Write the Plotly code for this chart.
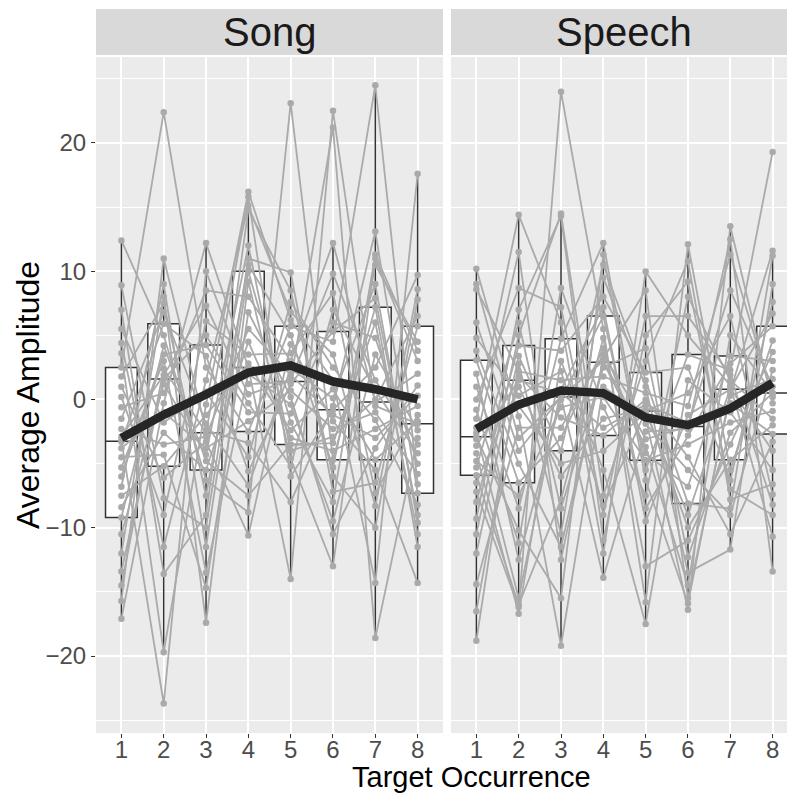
import plotly.graph_objects as go

targets = [1, 2, 3, 4, 5, 6, 7, 8]
panel_names = ["Song", "Speech"]

# ---- Song: per-target values for each participant (participant i = position i)
song_t1 = [5.5,-6.8,0.2,-14.5,12.4,-3.2,-10.5,2.5,-4.5,-1.5,-17.1,7.0,-6.0,1.0,-12.0,-2.9,3.6,-8.4,-3.3,8.9,-15.7,-0.6,-5.3,4.4,-9.2,-2.3,-13.4,1.8,-7.5,-3.8]
song_t2 = [-1.8,9.0,-9.0,2.4,5.0,-23.7,1.2,22.4,-4.3,6.8,-0.3,-13.6,3.5,-6.1,8.0,1.9,-19.7,-2.6,5.9,-7.7,11.0,0.5,3.0,-11.5,4.2,-3.5,1.6,7.5,-5.2,-1.0]
song_t3 = [0.6,-11.5,6.1,-2.6,-6.3,10.0,-4.3,2.5,-14.7,-1.9,12.2,-9.0,4.25,-3.3,-17.4,7.3,-0.4,-5.5,3.4,-10.0,-2.4,8.5,-13.5,1.5,-4.8,-2.9,5.0,-7.5,-1.2,-3.8]
song_t4 = [-4.5,10.0,3.5,15.8,-8.8,1.2,12.0,-2.5,6.8,-6.7,2.5,14.8,-1.0,-10.6,9.2,0.4,16.2,4.5,-5.6,11.0,-3.4,8.0,2.0,15.1,-7.5,5.5,-0.3,10.5,2.8,-1.7]
song_t5 = [7.6,-1.8,3.6,-6.0,23.1,1.4,-4.0,5.7,0.2,2.4,-14.0,8.5,-1.1,4.3,-4.6,1.5,6.2,-3.0,1.2,9.9,-8.0,3.0,-0.4,6.8,-3.5,1.9,-5.2,5.0,-2.4,0.7]
song_t6 = [2.5,-8.0,8.3,-0.8,-4.7,21.2,-2.9,4.5,-10.5,0.1,22.5,-6.0,6.0,-1.7,-13.0,9.8,1.5,-4.0,5.3,-7.2,-0.5,12.2,-9.5,3.5,-3.4,-1.2,7.0,-5.3,0.8,-2.3]
song_t7 = [-1.6,11.3,-7.3,2.5,7.2,-18.6,0.0,24.5,-3.8,9.0,-0.5,-10.0,4.8,-5.5,11.0,1.5,-14.3,-2.3,7.9,-6.5,13.1,-0.2,3.5,-8.3,6.0,-3.0,0.7,10.5,-4.7,-1.0]
song_t8 = [-8.2,3.8,-1.2,9.7,-11.5,-3.0,6.5,-6.6,1.1,-9.6,-1.9,7.8,-5.0,-14.3,3.0,-3.5,17.6,-0.5,-9.0,5.7,-7.3,2.0,-2.4,8.6,-10.5,0.3,-4.2,4.5,-1.7,-5.8]

# ---- Speech
speech_t1 = [-0.8,-12.0,4.8,-3.1,-7.2,9.0,-5.3,1.0,-16.5,-2.6,10.2,-9.3,3.05,-4.2,-18.8,6.0,-1.5,-6.5,2.0,-10.5,-2.9,8.6,-14.4,0.0,-5.9,-3.6,3.8,-8.0,-2.2,-4.8]
speech_t2 = [-11.2,3.4,0.3,11.5,-16.2,-3.0,6.0,-8.5,1.8,-15.5,-1.3,7.0,-6.5,-16.7,2.8,-4.0,14.4,1.0,-12.5,5.0,-10.2,2.2,-2.2,8.7,-16.0,1.5,-5.0,4.2,-0.5,-7.5]
speech_t3 = [8.7,-4.0,2.2,-12.5,24.0,0.2,-8.5,4.74,-1.4,0.8,-19.2,14.3,-3.0,3.0,-10.5,0.2,6.0,-6.0,0.0,14.5,-15.5,1.5,-2.2,7.2,-7.8,0.5,-11.5,3.8,-5.0,-0.6]
speech_t4 = [-0.6,10.5,-8.3,3.2,5.5,-13.9,2.5,12.2,-2.8,7.2,1.0,-11.0,4.0,-5.5,9.5,3.0,-12.0,-1.5,6.5,-7.5,11.3,1.8,3.5,-9.0,4.8,-2.2,2.9,8.0,-4.0,0.2]
speech_t5 = [-7.5,1.5,-0.9,8.5,-15.8,-2.5,4.0,-5.5,0.0,-9.5,-1.4,5.0,-4.2,-17.5,1.0,-3.1,9.97,-0.7,-8.5,3.0,-6.3,0.5,-1.9,6.5,-13.0,-0.4,-3.7,2.1,-1.0,-4.74]
speech_t6 = [8.0,-8.1,0.5,-15.5,12.1,-2.3,-12.3,3.5,-4.5,-1.2,-16.4,9.2,-6.8,1.5,-13.5,-2.1,5.0,-10.0,-2.8,10.8,-15.9,-0.5,-5.5,6.5,-11.0,-1.8,-14.5,2.5,-9.0,-3.5]
speech_t7 = [1.5,-8.5,6.5,0.3,-5.5,12.5,-2.6,2.3,-10.5,0.8,13.5,-7.0,3.4,-1.0,-11.7,8.5,1.1,-4.7,2.8,-7.8,0.6,11.3,-9.0,1.9,-3.5,-0.3,5.0,-6.3,0.9,-1.8]
speech_t8 = [-1.5,11.2,-7.4,1.6,4.6,-13.4,0.5,19.3,-3.3,6.7,-0.3,-9.0,3.0,-5.5,9.0,1.0,-10.7,-2.0,5.7,-6.6,11.6,0.2,2.3,-8.2,3.7,-2.7,0.5,7.6,-4.0,-0.9]

# ---- Box summaries
song_q1 = [-9.2, -5.2, -5.5, -2.5, -3.5, -4.7, -4.7, -7.3]
song_median = [-3.25, 1.6, -2.6, 2.5, 1.4, -0.8, -0.2, -1.9]
song_q3 = [2.5, 5.9, 4.25, 10.0, 5.7, 5.3, 7.2, 5.7]
song_low = [-17.1, -19.7, -17.4, -10.6, -14.0, -13.0, -18.6, -14.3]
song_high = [12.4, 11.0, 12.2, 16.2, 9.9, 12.2, 24.5, 17.6]

speech_q1 = [-5.9, -6.5, -4.0, -2.8, -4.74, -8.1, -4.7, -2.7]
speech_median = [-2.9, 1.5, 0.2, 2.9, -0.9, -2.1, 0.8, 0.5]
speech_q3 = [3.05, 4.2, 4.74, 6.5, 2.1, 3.5, 3.4, 5.7]
speech_low = [-18.8, -16.7, -19.2, -13.9, -17.5, -16.4, -11.7, -13.4]
speech_high = [10.2, 14.4, 14.5, 12.2, 9.97, 12.1, 13.5, 11.6]

# ---- Mean trajectory
song_mean = [-3.0, -1.2, 0.4, 2.1, 2.65, 1.4, 0.8, 0.0]
speech_mean = [-2.3, -0.4, 0.7, 0.5, -1.4, -2.0, -0.7, 1.3]

y_ticks = [-20, -10, 0, 10, 20]
y_tick_labels = ["\u221220", "\u221210", "0", "10", "20"]
y_minor = [-25, -15, -5, 5, 15, 25]

FONT = "Liberation Sans, Arial, sans-serif"
GREY_LINE = "#AAAAAA"

fig = go.Figure()

panels = [
    ("x", "y", [song_t1, song_t2, song_t3, song_t4, song_t5, song_t6, song_t7, song_t8],
     song_q1, song_median, song_q3, song_low, song_high, song_mean),
    ("x2", "y2", [speech_t1, speech_t2, speech_t3, speech_t4, speech_t5, speech_t6, speech_t7, speech_t8],
     speech_q1, speech_median, speech_q3, speech_low, speech_high, speech_mean),
]

for xa, ya, cols, q1, med, q3, lo, hi, mean in panels:
    fig.add_trace(go.Box(
        x=targets, q1=q1, median=med, q3=q3, lowerfence=lo, upperfence=hi,
        xaxis=xa, yaxis=ya, width=0.75, whiskerwidth=0,
        fillcolor="white", line=dict(color="#333333", width=1.5),
        boxpoints=False, hoverinfo="skip", showlegend=False,
    ))
    n = len(cols[0])
    xs, ys = [], []
    for i in range(n):
        for t, col in zip(targets, cols):
            xs.append(t)
            ys.append(col[i])
        xs.append(None)
        ys.append(None)
    fig.add_trace(go.Scatter(
        x=xs, y=ys, xaxis=xa, yaxis=ya, mode="lines+markers",
        line=dict(color=GREY_LINE, width=1.8),
        marker=dict(color=GREY_LINE, size=6.5),
        showlegend=False, hoverinfo="skip", connectgaps=False,
    ))
    fig.add_trace(go.Scatter(
        x=targets, y=mean, xaxis=xa, yaxis=ya, mode="lines",
        line=dict(color="#262626", width=8.5),
        showlegend=False, hoverinfo="skip",
    ))

axis_common = dict(
    showgrid=True, gridcolor="white", gridwidth=1.6, zeroline=False,
    ticks="outside", ticklen=4, tickcolor="#333333", tickwidth=1,
    tickfont=dict(family=FONT, size=24, color="#4D4D4D"), showline=False,
)

x_common = dict(
    showgrid=True, gridcolor="white", gridwidth=1.6, zeroline=False,
    ticks="", tickfont=dict(family=FONT, size=24, color="#4D4D4D"), showline=False,
    tickvals=targets, ticktext=[str(t) for t in targets],
    minor=dict(tickvals=targets, ticks="outside", ticklen=4, tickcolor="#333333",
               tickwidth=1, showgrid=False),
)

fig.update_layout(
    width=787, height=794,
    margin=dict(l=96, r=0, t=57, b=61),
    paper_bgcolor="white", plot_bgcolor="#EBEBEB",
    showlegend=False,
    xaxis=dict(domain=[0, 0.5022], range=[0.4, 8.6], anchor="y", **x_common),
    xaxis2=dict(domain=[0.5137, 1.0], range=[0.4, 8.34], anchor="y2", **x_common),
    yaxis=dict(domain=[0, 1], range=[-26.0, 26.7], tickvals=y_ticks, ticktext=y_tick_labels,
               anchor="x",
               minor=dict(tickvals=y_minor, showgrid=True, gridcolor="white", gridwidth=0.7, ticks=""),
               **axis_common),
    yaxis2=dict(domain=[0, 1], range=[-26.0, 26.7], tickvals=y_ticks, matches="y",
                anchor="x2", showticklabels=False,
                minor=dict(tickvals=y_minor, showgrid=True, gridcolor="white", gridwidth=0.7, ticks=""),
                **{k: v for k, v in axis_common.items() if k not in ("ticks",)}, ticks=""),
)

# strips
strip_y0 = 1 + 2 / 676
strip_y1 = 1 + 48 / 676
for (d0, d1), name in zip([(0, 0.5022), (0.5137, 1.0)], panel_names):
    fig.add_shape(type="rect", xref="paper", yref="paper", x0=d0, x1=d1,
                  y0=strip_y0, y1=strip_y1, fillcolor="#D9D9D9", line=dict(width=0), layer="below")
cx_right = (0.5137 + (0.5137 + 0.5022)) / 2
fig.add_annotation(x=0.2511, y=(strip_y0 + strip_y1) / 2, xref="paper", yref="paper",
                   text=panel_names[0], showarrow=False, xanchor="center", yanchor="middle",
                   font=dict(family=FONT, size=40, color="#1A1A1A"))
fig.add_annotation(x=cx_right, y=(strip_y0 + strip_y1) / 2, xref="paper", yref="paper",
                   text=panel_names[1], showarrow=False, xanchor="center", yanchor="middle",
                   font=dict(family=FONT, size=40, color="#1A1A1A"))

# axis titles
fig.add_annotation(x=(28 - 96) / 691, y=0.5, xref="paper", yref="paper",
                   text="Average Amplitude", textangle=-90, showarrow=False,
                   xanchor="center", yanchor="middle",
                   font=dict(family=FONT, size=32, color="#000000"))
fig.add_annotation(x=(471 - 96) / 691, y=(733 - 777) / 676, xref="paper", yref="paper",
                   text="Target Occurrence", showarrow=False,
                   xanchor="center", yanchor="middle", borderpad=0,
                   font=dict(family=FONT, size=29, color="#000000"))

fig.write_html(
    "out.html",
    config={"displayModeBar": False},
    post_script="document.body.style.margin='0';document.body.style.padding='0';"
                "document.body.style.overflow='hidden';",
)
